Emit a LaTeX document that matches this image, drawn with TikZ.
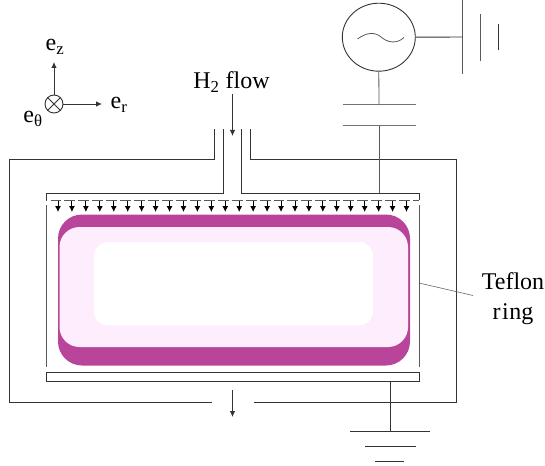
\documentclass[tikz,border=0pt]{standalone}
\usepackage{fontspec}
\setmainfont{Liberation Serif}
\usetikzlibrary{arrows.meta,shapes.geometric}
\definecolor{plasmadark}{HTML}{B9459A}
\definecolor{plasmalight}{HTML}{FEEDFD}
\tikzset{
	wall/.style={line width=0.9pt, black!80},
	thinline/.style={line width=0.8pt, black!65},
	flowarrow/.style={-{Latex[length=6pt,width=5.5pt]}, line width=0.8pt, black!80},
	label/.style={inner sep=0pt, font=\fontsize{24}{30}\selectfont}
}
\begin{document}
\begin{tikzpicture}[x=1pt,y=-1pt]
	\useasboundingbox (0,0) rectangle (545,465);

	% plasma
	\fill [plasmadark, rounded corners=24pt] (58,214.5) rectangle (410,365.5);
	\fill [plasmalight, rounded corners=20pt] (59.5,227) rectangle (408,347);
	\fill [white, rounded corners=14pt] (94,242) rectangle (373,325.5);

	% chamber
	\draw [wall] (214,129) -- (214,159) -- (9.5,159) -- (9.5,402) -- (212,402);
	\draw [wall] (250,129) -- (250,159) -- (456,159) -- (456,402) -- (254,402);

	% gas feed and top electrode
	\draw [wall] (223.5,129) -- (223.5,193) -- (46,193) -- (46,200);
	\draw [wall] (241.5,129) -- (241.5,193) -- (419,193) -- (419,200);
	\draw [thinline, dash pattern=on 10.9pt off 3.04pt, dash phase=-4.5pt] (46,200) -- (419,200);
	\foreach \i in {0,...,25}
		\draw [-{Latex[length=6pt,width=6pt]}, line width=0.9pt] (58+13.94*\i,201) -- (58+13.94*\i,212);

	% teflon ring
	\draw [thinline] (46,205) -- (46,367);
	\draw [thinline] (419,205) -- (419,367);
	\coordinate (ringpt) at (419,283);
	\coordinate (tefl) at (473,295.5);
	\draw [line width=0.6pt, black!60] (ringpt) -- (tefl);
	\node (teflon)[label, align=center] at (513,299) {Teflon\\r\kern1.5pt i\kern0.5pt ng};

	% bottom electrode and ground
	\node (botplate)[draw, wall, minimum width=373pt, minimum height=8.5pt, inner sep=0pt] at (232.5,376.75) {};
	\coordinate (gnd) at (390,431.5);
	\draw [wall] (botplate.south -| gnd) -- (gnd);
	\draw [wall] (350,431.5) -- (430,431.5);
	\draw [wall] (365,446) -- (416,446);
	\draw [wall] (375,461) -- (404,461);

	% source
	\node (src)[ellipse, draw, wall, minimum width=73pt, minimum height=68pt, inner sep=0pt] at (378.8,37.2) {};
	\draw [thinline] (357.5,39) .. controls (367,32) and (375,32) .. (381,37) .. controls (388,43) and (397,44) .. (404,37.5);
	\coordinate (capa) at (379,105);
	\coordinate (capb) at (379,126);
	\coordinate (feed) at (379,193);
	\coordinate (bat) at (462,37);
	\draw [thinline] (src.south) -- (capa);
	\draw [thinline] (capb) -- (feed);
	\draw [line width=1pt, black!55] (343,105) -- (415.5,105);
	\draw [line width=1pt, black!55] (343,126) -- (415.5,126);
	\draw [wall] (src.east) -- (bat);
	\draw [thinline] (462,0) -- (462,74);
	\draw [thinline] (480.5,14) -- (480.5,61);
	\draw [wall] (498.5,24) -- (498.5,50);

	% axes
	\node (orig)[circle, draw, wall, minimum size=18pt, inner sep=0pt] at (54,104) {};
	\draw [wall] (orig.north west) -- (orig.south east);
	\draw [wall] (orig.north east) -- (orig.south west);
	\coordinate (ez) at (54,62);
	\coordinate (er) at (102,104);
	\draw [flowarrow] (orig) -- (ez);
	\draw [flowarrow] (orig) -- (er);
	\node (zlabel)[label] at (55,47) {e\textsubscript{z}};
	\node (rlabel)[label] at (119,105) {e\textsubscript{r}};
	\node (tlabel)[label] at (33,119) {e\textsubscript{θ}};

	% flow
	\node (flow)[label] at (231.5,82) {H\textsubscript{2} flow};
	\coordinate (flowend) at (232.5,136);
	\draw [flowarrow] (232.5,94) -- (flowend);
	\coordinate (pumpa) at (232.5,390);
	\coordinate (pumpb) at (232.5,417);
	\draw [flowarrow] (pumpa) -- (pumpb);
\end{tikzpicture}
\end{document}
